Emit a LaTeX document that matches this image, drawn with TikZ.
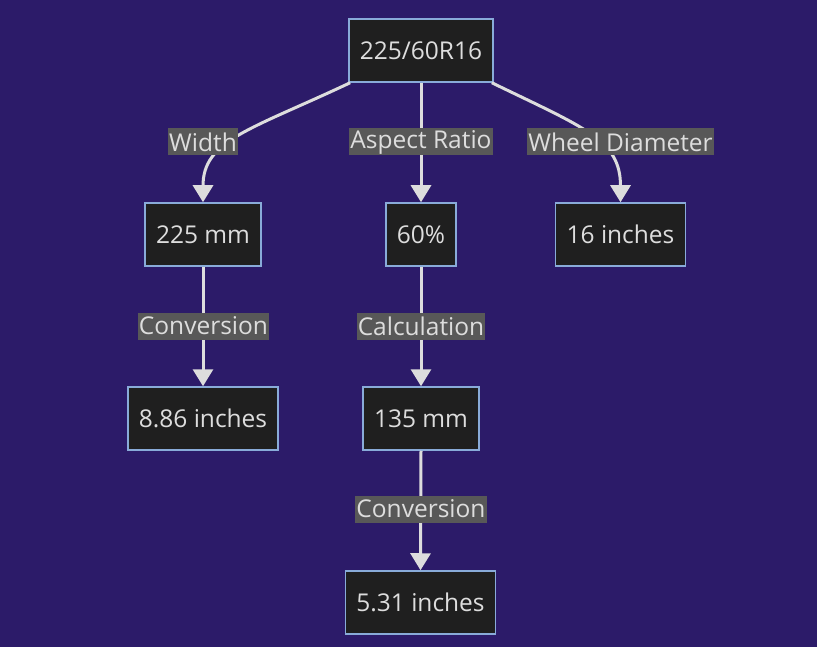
\documentclass[tikz,border=0pt]{standalone}
\usepackage{fontspec}
\setmainfont{Open Sans}
\usetikzlibrary{arrows.meta}
\definecolor{bgpurple}{HTML}{2C1B69}
\definecolor{boxfill}{HTML}{1F1F1F}
\definecolor{boxline}{HTML}{89ABD9}
\definecolor{linkgray}{HTML}{DDDDDD}
\definecolor{lblfill}{HTML}{585858}

\begin{document}
\begin{tikzpicture}[x=1pt,y=-1pt,
    box/.style={draw=boxline,fill=boxfill,line width=1.5pt,
      text=linkgray,font=\fontsize{24.5}{28}\selectfont,
      inner xsep=11pt,minimum height=63pt},
    lbl/.style={fill=lblfill,text=linkgray,
      font=\fontsize{24.5}{28}\selectfont,
      inner xsep=1pt,inner ysep=0pt,minimum height=27pt},
    link/.style={draw=linkgray,line width=3pt,
      -{Triangle[width=20pt,length=17pt]}}]
\fill [bgpurple] (0,0) rectangle (817,647);
\coordinate (c1) at (421,50.5);
\coordinate (c2) at (203,234.5);
\coordinate (c3) at (421,234.5);
\coordinate (c4) at (620.5,234.5);
\coordinate (c5) at (203,418.5);
\coordinate (c6) at (421,418.5);
\coordinate (c7) at (420.5,602.5);
\node [box] (tyre) at (c1) {225/60R16};
\node [box] (width) at (c2) {225 mm};
\node [box] (ratio) at (c3) {60\%};
\node [box] (wheel) at (c4) {16 inches};
\node [box] (widthin) at (c5) {8.86 inches};
\node [box] (height) at (c6) {135 mm};
\node [box] (heightin) at (c7) {5.31 inches};
\draw [link] ([xshift=2pt]tyre.south west)
    .. controls (250,130) and (203,140) .. (width.north);
\draw [link] (tyre.south) -- (ratio.north);
\draw [link] ([xshift=-2pt]tyre.south east)
    .. controls (585,128) and (620.5,140) .. (wheel.north);
\draw [link] (width.south) -- (widthin.north);
\draw [link] (ratio.south) -- (height.north);
\draw [link] (height.south) -- (heightin.north);
\node [lbl] (l1) at (203,142) {Width};
\node [lbl] (l2) at (421,142) {Aspect Ratio};
\node [lbl] (l3) at (620.5,142) {Wheel Diameter};
\node [lbl] (l4) at (203.5,326) {Conversion};
\node [lbl] (l5) at (421,326) {Calculation};
\node [lbl] (l6) at (421,509) {Conversion};
\end{tikzpicture}
\end{document}
